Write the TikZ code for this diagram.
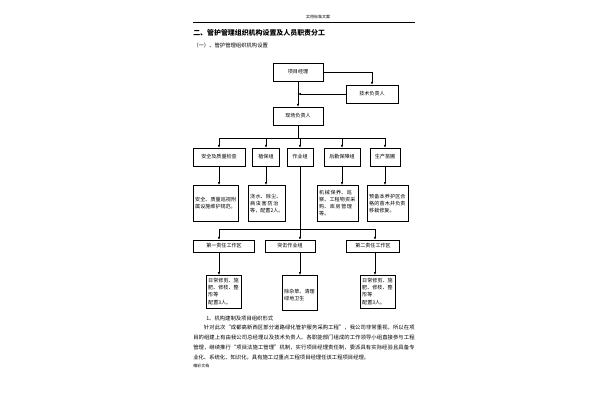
\documentclass[tikz,border=0pt]{standalone}
\usepackage{fontspec}
\setmainfont{Liberation Sans}
\newfontfamily\cjk{Noto Sans CJK SC}
\XeTeXlinebreaklocale "zh"
\XeTeXlinebreakskip=0pt plus 1pt
\usetikzlibrary{arrows.meta,positioning}
\tikzset{>={Latex[length=2.2pt,width=1.8pt]}}
\tikzset{box/.style = {draw,line width=0.35pt,font=\cjk\fontsize{3.8}{5.2}\selectfont,inner sep=1.5pt}}
\tikzset{tbox/.style = {box,minimum height=13.5pt}}
\tikzset{dbox/.style = {box,align=left,anchor=north west,text width=#1}}
\tikzset{edge/.style = {->,line width=0.35pt}}
\tikzset{line/.style = {line width=0.35pt}}
\begin{document}
\begin{tikzpicture}[x=0.75pt,y=-0.75pt]
\useasboundingbox (0,0) rectangle (600,400);
% header
\node[font=\cjk\fontsize{3}{4}\selectfont] (hd) at (318,17) {实用标准文案};
\draw[line] (193,22) -- (415,22);
\node[anchor=west,font=\cjk\bfseries\fontsize{5.2}{6}\selectfont,inner sep=0] (tt) at (193,33) {二、管护管理组织机构设置及人员职责分工};
\node[anchor=west,font=\cjk\fontsize{4}{5}\selectfont,inner sep=0] (st) at (193,45) {（一）、管护管理组织机构设置};
% top
\node[tbox,minimum width=37.5pt] (pm) at (298,72) {项目经理};
\node[tbox,minimum width=39pt] (tech) at (372,94) {技术负责人};
\node[tbox,minimum width=37.5pt] (site) at (298,116) {现场负责人};
\coordinate (j1) at (298,94);
\draw[edge] (pm.east) -| (tech.north);
\draw[edge] (tech.west) -- (j1);
\draw[edge] (pm.south) -- (site.north);
% groups
\node[tbox,minimum width=39pt] (safe) at (219,157) {安全及质量检查};
\node[tbox,minimum width=20pt] (plant) at (266,157) {植保组};
\node[tbox,minimum width=19.5pt] (work) at (300,157) {作业组};
\node[tbox,minimum width=27pt] (logi) at (342,157) {后勤保障组};
\node[tbox,minimum width=22.5pt] (nurs) at (385,157) {生产苗圃};
\coordinate (b1) at (298,138);
\draw[line] (site.south) -- (b1);
\draw[line] (219,138) -- (385,138);
\foreach \n in {safe,plant,work,logi,nurs}
  \draw[edge] (\n.north |- b1) -- (\n.north);
% details
\node[dbox=31pt,minimum height=27pt] (dsafe) at (193,185) {安全、质量巡视附属设施维护规范。\\[4pt]};
\node[dbox=25pt,minimum height=27pt] (dplant) at (248,185) {浇水、除尘、病虫害防治等，配置2人。};
\node[dbox=28pt,minimum height=27pt] (dlogi) at (317,185) {机械保养、巡察、工程物资采购、库房管理等。};
\node[dbox=28pt,minimum height=27pt] (dnurs) at (367,185) {预备本养护区合格的苗木并负责移栽修复。\\[4pt]};
\draw[edge] (safe.south) -- (dsafe.north -| safe.south);
\draw[edge] (plant.south) -- (dplant.north -| plant.south);
\draw[edge] (logi.south) -- (dlogi.north -| logi.south);
\draw[edge] (nurs.south) -- (dnurs.north -| nurs.south);
% work areas
\coordinate (b2) at (300,229);
\draw[line] (work.south) -- (b2);
\draw[line] (219,229) -- (375,229);
\node[tbox,minimum width=46pt,minimum height=9pt] (w1) at (224,246) {第一责任工作区};
\node[tbox,minimum width=37.5pt,minimum height=9pt] (w0) at (290,246) {突击作业组};
\node[tbox,minimum width=40pt,minimum height=9pt] (w2) at (373,246) {第二责任工作区};
\draw[edge] (219,229) -- (w1.north -| 219,0);
\draw[edge] (b2) -- (w0.north -| b2);
\draw[edge] (375,229) -- (w2.north -| 375,0);
\node[dbox=23pt,minimum height=25pt] (dw1) at (206,275) {日常修剪、施肥、修枝、整形等\\[1pt]配置3人。};
\node[dbox=23pt,minimum height=26pt] (dw0) at (282,275) {\\[2pt]除杂草、清理绿地卫生\\[3pt]};
\node[dbox=23pt,minimum height=25pt] (dw2) at (360,275) {日常修剪、施肥、修枝、整形等\\[1pt]配置3人。};
\draw[edge] (w1.south -| 219,0) -- (dw1.north -| 219,0);
\draw[edge] (w0.south -| b2) -- (dw0.north -| b2);
\draw[edge] (w2.south -| 375,0) -- (dw2.north -| 375,0);
% text
\node[anchor=west,font=\cjk\fontsize{4}{5}\selectfont,inner sep=0] (sec) at (206,318) {1、机构建制及项目组织形式};
\node[anchor=north west,font=\cjk\fontsize{4}{7.5}\selectfont,inner sep=0,text width=166pt,align=justify] (par) at (193,325)
 {\hspace*{8pt}针对此次“成都高新西区部分道路绿化管护服务采购工程”，我公司非常重视，所以在项目的组建上有由我公司总经理以及技术负责人、各职能部门组成的工作领导小组直接参与工程管理，继续推行“项目法施工管理”机制，实行项目经理责任制，委派具有实际经验且具备专业化、系统化、知识化，具有施工过重点工程项目经理任该工程项目经理。};
\node[anchor=west,font=\cjk\fontsize{3}{4}\selectfont,inner sep=0] (ft) at (193,366) {精彩文档};
\end{tikzpicture}
\end{document}
